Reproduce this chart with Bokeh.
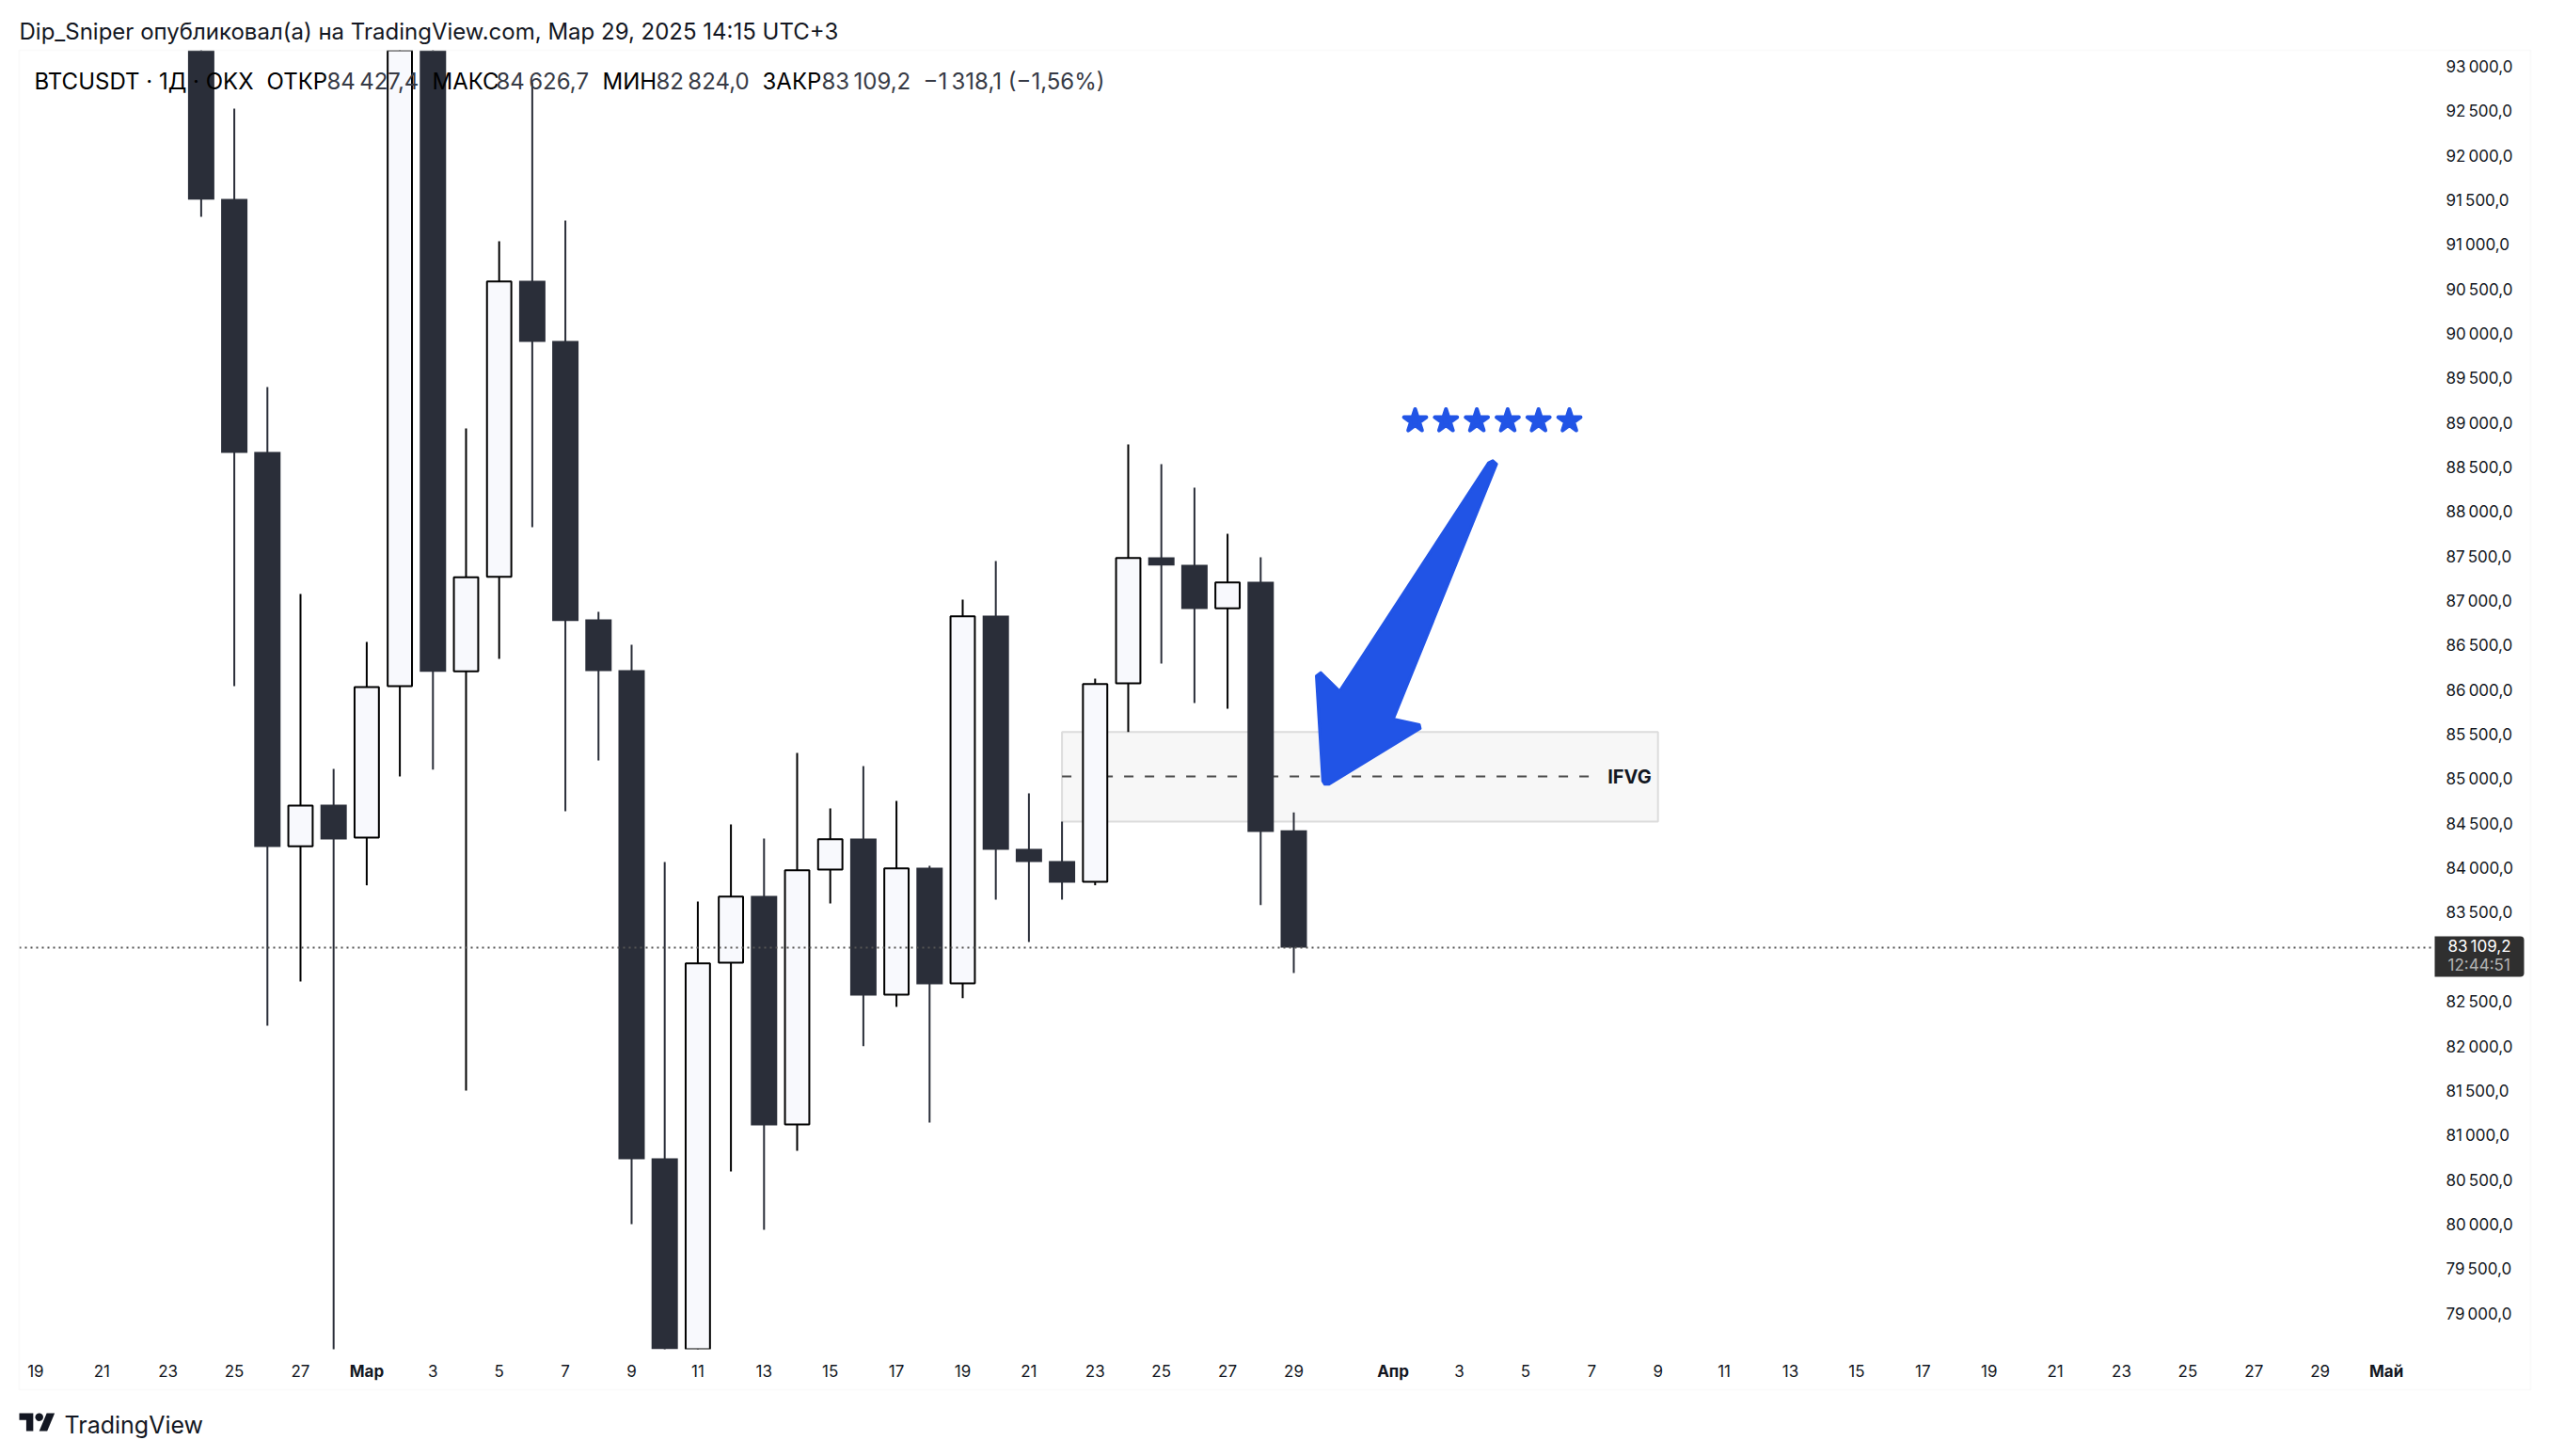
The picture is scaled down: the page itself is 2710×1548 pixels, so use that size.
import numpy as np
from bokeh.plotting import figure
from bokeh.embed import file_html
from bokeh.resources import INLINE
from bokeh.core.properties import value
from bokeh.models import (Range1d, FixedTicker, Label, BoxAnnotation, PolyAnnotation, Span)

# ---- data ----
days = list(range(-33, 1))  # days relative to 29 Mar 2025
opens = [96300, 91515, 88674, 84246, 84714, 84345, 86045, 94260, 86210, 87273, 90596, 89920, 86794, 86224, 80744, 78560, 82940,
         83690, 81124, 83985, 84334, 82581, 84007, 82708, 86837, 84218, 84081, 83848, 86076, 87491, 87407, 86918, 87217, 84427.4]
highs = [96500, 92529, 89403, 87080, 85115, 86541, 95000, 94400, 88938, 91040, 92824, 91272, 86879, 86509, 84070, 83626, 84492,
         84334, 85295, 84672, 85147, 84756, 84028, 87016, 87449, 84841, 84524, 86129, 88759, 88537, 88273, 87755, 87491, 84626.7]
lows = [91314, 86045, 82233, 82729, 78200, 83809, 85031, 85108, 81504, 86351, 87829, 84640, 85210, 80004, 77500, 76600, 80596,
        79941, 80828, 83605, 82004, 82444, 81145, 82542, 83648, 83172, 83648, 83809, 85530, 86298, 85855, 85791, 83587, 82824]
closes = [91507, 88664, 84239, 84704, 84323, 86034, 94260, 86206, 87266, 90589, 89910, 86777, 86214, 80733, 78530, 82933, 83682,
          81113, 83978, 84327, 82570, 83999, 82697, 86829, 84207, 84070, 83838, 86069, 87484, 87399, 86911, 87209, 84408, 83109.2]

last_price = 83109.2
price_ticks = [79000, 79500, 80000, 80500, 81000, 81500, 82000, 82500, 83500, 84000, 84500, 85000, 85500, 86000, 86500,
               87000, 87500, 88000, 88500, 89000, 89500, 90000, 90500, 91000, 91500, 92000, 92500, 93000]
price_labels = ["79\u202f000,0", "79\u202f500,0", "80\u202f000,0", "80\u202f500,0", "81\u202f000,0", "81\u202f500,0", "82\u202f000,0",
                "82\u202f500,0", "83\u202f500,0", "84\u202f000,0", "84\u202f500,0", "85\u202f000,0", "85\u202f500,0", "86\u202f000,0",
                "86\u202f500,0", "87\u202f000,0", "87\u202f500,0", "88\u202f000,0", "88\u202f500,0", "89\u202f000,0", "89\u202f500,0",
                "90\u202f000,0", "90\u202f500,0", "91\u202f000,0", "91\u202f500,0", "92\u202f000,0", "92\u202f500,0", "93\u202f000,0"]
date_ticks = [-38, -36, -34, -32, -30, -26, -24, -22, -20, -18, -16, -14, -12, -10, -8, -6, -4, -2, 0,
              5, 7, 9, 11, 13, 15, 17, 19, 21, 23, 25, 27, 29, 31]
date_labels = ["19", "21", "23", "25", "27", "3", "5", "7", "9", "11", "13", "15", "17", "19", "21", "23", "25", "27", "29",
               "3", "5", "7", "9", "11", "13", "15", "17", "19", "21", "23", "25", "27", "29"]
month_days = [-28, 3, 33]
month_labels = ["Мар", "Апр", "Май"]

# drawings (day, price)
zone_start, zone_end, zone_top, zone_bottom, zone_mid = -7, 11, 85530, 84524, 85031
zone_line_end = 8.96
arrow_days = [6.011, 6.125, 3.006, 3.793, 3.818, 1.065, 0.9375, 0.875, 0.682, 0.8125, 1.384, 5.881]
arrow_prices = [88576, 88537, 85675, 85612, 85569, 84943, 84943, 84978, 86158, 86196, 85989, 88551]
star_days = [3.665, 4.597, 5.529, 6.461, 7.393, 8.325]
star_prices = [89023] * 6

DARK, PAPER, BLUE = "#2a2e39", "#f8f9fd", "#2154e6"
FONT = "Inter"
W, H = 2700, 1540
DAY_L, DAY_R, PANE_L, PANE_R = -38.494, 34.46, 20, 2588
px_per_day = (PANE_R - PANE_L) / (DAY_R - DAY_L)

# ---- main chart ----
p = figure(width=W, height=H, output_backend="svg", toolbar_location=None,
           x_range=Range1d(DAY_L, DAY_R), y_range=Range1d(78600, 93183), y_axis_location="right",
           min_border_left=PANE_L, min_border_top=53, min_border_right=W - PANE_R, min_border_bottom=106)
p.grid.visible = False
p.outline_line_color = None
p.background_fill_color = "white"
p.border_fill_color = "white"

for ax in (p.xaxis[0], p.yaxis[0]):
    ax.axis_line_color = None
    ax.major_tick_line_color = None
    ax.minor_tick_line_color = None
    ax.major_label_text_font = FONT
    ax.major_label_text_font_size = "17px"
    ax.major_label_text_color = "#131722"
p.xaxis[0].ticker = FixedTicker(ticks=date_ticks)
p.xaxis[0].major_label_overrides = dict(zip(date_ticks, date_labels))
p.xaxis[0].major_label_standoff = 10
p.yaxis[0].ticker = FixedTicker(ticks=price_ticks)
p.yaxis[0].major_label_overrides = dict(zip(price_ticks, price_labels))
p.yaxis[0].major_label_standoff = 6

d, o, h, l, c = map(np.array, (days, opens, highs, lows, closes))
up = c > o

# zone behind the candles
p.quad(left=[zone_start], right=[zone_end], top=[zone_top], bottom=[zone_bottom],
       fill_color="#f7f7f7", line_color="#dcdcdc", line_width=2)
p.line([zone_start, zone_line_end], [zone_mid, zone_mid], line_color="#4a4a4a", line_width=2, line_dash="10 12")
p.text([zone_end - 0.2], [zone_mid - 10], text=["IFVG"], text_align="right", text_baseline="middle",
       text_font=value(FONT), text_font_size="20px", text_font_style="bold", text_color="#131722")

# wicks
p.segment(d[~up], h[~up], d[~up], l[~up], line_color=DARK, line_width=2)
p.segment(d[up], h[up], d[up], l[up], line_color="#000000", line_width=2)
# light bodies
p.vbar(d[up], width=0.735, top=c[up], bottom=o[up], fill_color=PAPER, line_color="#000000", line_width=2)
# last price line
p.add_layout(Span(location=last_price, dimension="width", line_color="#555555", line_width=2, line_dash="2 4", level="glyph"))
# dark bodies
p.vbar(d[~up], width=0.795, top=o[~up], bottom=c[~up], fill_color=DARK, line_color=None)

# arrow and stars
p.patch(arrow_days, arrow_prices, fill_color=BLUE, line_color=BLUE, line_width=3, line_join="round")
p.scatter(star_days, star_prices, marker="star", size=25, fill_color=BLUE, line_color=BLUE, line_width=4, line_join="round")

# ---- transparent sheet on top, for what lies outside the chart's frame ----
q = figure(width=W, height=H, output_backend="svg", toolbar_location=None,
           x_range=Range1d(DAY_L - PANE_L / px_per_day, DAY_R + (W - PANE_R) / px_per_day), y_range=Range1d(0, 1),
           x_axis_location=None, y_axis_location=None, min_border=0)
q.grid.visible = False
q.outline_line_color = None
q.background_fill_alpha = 0
q.border_fill_alpha = 0
q.styles = {"position": "absolute", "top": "0px", "left": "0px"}

# frame around the pane
q.add_layout(BoxAnnotation(left=20, right=2690, top=53, bottom=1477, left_units="canvas", right_units="canvas",
                           top_units="canvas", bottom_units="canvas", fill_alpha=0, fill_color=None,
                           line_color="#f0f0f0", line_width=2))

def lab(x, y, text, size="24px", color="#131722", style="normal", align="left", xu="canvas"):
    q.add_layout(Label(x=x, y=y, x_units=xu, y_units="canvas", text=text, text_font=FONT, text_font_size=size,
                       text_color=color, text_font_style=style, text_align=align, text_baseline="middle"))

# header
lab(20, 33, "Dip_Sniper опубликовал(а) на TradingView.com, Мар 29, 2025 14:15 UTC+3")
VAL = "#363a45"
lab(36, 86, "BTCUSDT · 1Д · OKX", color="#000000")
for x, t in [(283, "ОТКР"), (459, "МАКС"), (640, "МИН"), (810, "ЗАКР")]:
    lab(x, 86, t, color="#000000")
for x, t in [(347, "84\u202f427,4"), (527, "84\u202f626,7"), (697, "82\u202f824,0"), (873, "83\u202f109,2"),
             (981, "−1\u202f318,1 (−1,56%)")]:
    lab(x, 86, t, color=VAL)

# months in the time scale
for x, t in zip(month_days, month_labels):
    lab(x, 1457, t, size="17px", style="bold", align="center", xu="data")

# last price badge
q.add_layout(BoxAnnotation(left=2588, right=2683, top=995, bottom=1038, left_units="canvas", right_units="canvas",
                           top_units="canvas", bottom_units="canvas", fill_color="#2f2f2f", fill_alpha=1,
                           line_color=None, border_radius=(0, 4, 4, 0)))
lab(2602, 1005, "83\u202f109,2", size="17px", color="#ffffff")
lab(2602, 1025, "12:44:51", size="17px", color="#b4b4b4")

# footer logo and name
s, ox, oy = 1.06, 20, 1497.7
def poly(xs, ys):
    q.add_layout(PolyAnnotation(xs=[ox + s * v for v in xs], ys=[oy + s * v for v in ys], xs_units="canvas", ys_units="canvas",
                                fill_color="#131722", fill_alpha=1, line_color=None))
poly([14, 7, 7, 0, 0, 14], [22, 22, 11, 11, 4, 4])
poly([28, 20, 27.5, 35.5], [22, 22, 4, 4])
t = np.linspace(0, 2 * np.pi, 24)[:-1]
poly(list(20 + 4 * np.cos(t)), list(8 + 4 * np.sin(t)))
lab(68, 1514, "TradingView", size="25px")

open("out.html", "w").write(file_html([p, q], INLINE))
